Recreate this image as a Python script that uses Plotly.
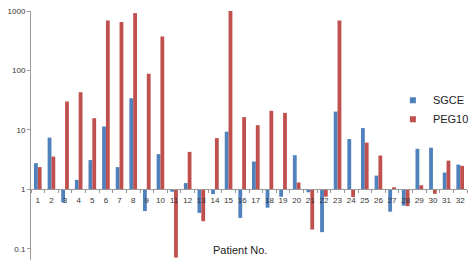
import plotly.graph_objects as go

patients = [str(i) for i in range(1, 33)]
sgce = [2.75, 7.4, 0.60, 1.44, 3.1, 11.4, 2.36, 34, 0.43, 3.9,
        0.91, 1.27, 0.40, 0.83, 9.3, 0.33, 2.93, 0.49, 0.75, 3.75,
        0.89, 0.19, 20.3, 7.0, 10.7, 1.70, 0.42, 0.53, 4.8, 5.0,
        1.91, 2.6]
peg10 = [2.36, 3.55, 30, 43, 15.7, 692, 650, 922, 88, 372,
         0.071, 4.26, 0.29, 7.25, 1020, 16.4, 12, 20.9, 19.3, 1.30,
         0.21, 0.75, 692, 0.74, 6.1, 3.7, 1.08, 0.52, 1.17, 0.84,
         3.04, 2.48]
series_names = ["SGCE", "PEG10"]
colors = ["#4F81BD", "#C0504D"]
ytick_vals = [0.1, 1, 10, 100, 1000]
ytick_text = ["0.1", "1", "10", "100", "1000"]
base_value = 1

FONT = "Liberation Sans, Arial, sans-serif"
W, H = 474, 268
ML, MR, MT, MB = 31, 0, 11, 8
ymin_log = -1.19
ymax_log = 3.0

fig = go.Figure()
for name, vals, col in zip(series_names, [sgce, peg10], colors):
    fig.add_trace(go.Bar(
        x=patients,
        y=[v - base_value for v in vals],
        base=base_value,
        customdata=vals,
        hovertemplate="Patient %{x}<br>" + name + ": %{customdata}<extra></extra>",
        marker=dict(color=col, line=dict(width=0)),
        name=name,
        showlegend=False,
    ))
# legend entries with small square symbols
for name, col in zip(series_names, colors):
    fig.add_trace(go.Scatter(
        x=[None], y=[None], mode="markers", name=name,
        marker=dict(symbol="square", size=6, color=col),
        showlegend=True,
    ))

pos = (0 - ymin_log) / (ymax_log - ymin_log)

fig.update_layout(
    width=W, height=H,
    margin=dict(l=ML, r=MR, t=MT, b=MB, pad=0),
    paper_bgcolor="white", plot_bgcolor="white",
    font=dict(family=FONT, size=8, color="#333333"),
    barmode="group", bargap=0.44, bargroupgap=0,
    showlegend=True,
    legend=dict(x=0.83, xanchor="left", y=0.70, yanchor="top",
                font=dict(size=11, color="#222222"),
                bgcolor="rgba(0,0,0,0)", itemwidth=30,
                tracegroupgap=0),
    xaxis=dict(type="category", anchor="free", position=pos,
               showline=True, linecolor="#999999", linewidth=1,
               ticks="outside", ticklen=3, tickcolor="#999999",
               tickson="boundaries", tickangle=0, ticklabelstandoff=3,
               showgrid=False, zeroline=False,
               tickfont=dict(size=8, color="#333333")),
    yaxis=dict(type="log", range=[ymin_log, ymax_log],
               showline=True, linecolor="#999999", linewidth=1,
               ticks="outside", ticklen=3, tickcolor="#999999",
               tickvals=ytick_vals, ticktext=ytick_text,
               showgrid=False, zeroline=False,
               tickfont=dict(size=8, color="#333333")),
    annotations=[dict(text="Patient No.", xref="paper", yref="paper",
                      x=(243.7 - ML) / (W - ML - MR), y=1 - (250 - MT) / (H - MT - MB),
                      xanchor="center", yanchor="middle", showarrow=False,
                      font=dict(size=11, color="#222222"))],
)

fig.write_html("out.html")
